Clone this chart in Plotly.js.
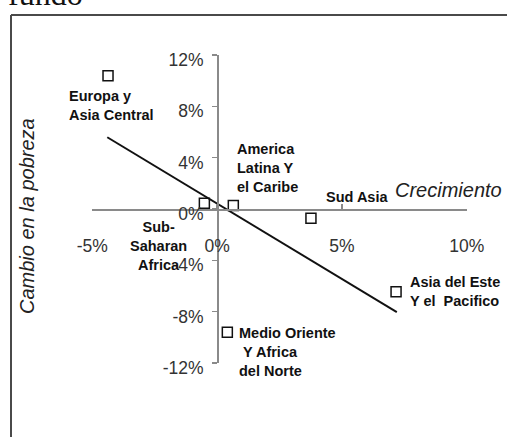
<!DOCTYPE html>
<html>
<head>
<meta charset="utf-8">
<script src="https://cdn.plot.ly/plotly-3.0.1.min.js"></script>
<style>html,body{margin:0;padding:0;background:#fff;}#chart{width:507px;height:437px;}</style>
</head>
<body>
<div id="chart"></div>
<script>
// Data
var regions = ['Europa y<br>Asia Central', 'Sub-<br>Saharan<br>Africa', 'America<br>Latina Y<br>el Caribe',
               'Sud Asia', 'Asia del Este<br>Y el\u00a0 Pacifico', 'Medio Oriente<br>\u00a0Y Africa<br>del Norte'];
var growth = [-4.37, -0.51, 0.65, 3.76, 7.17, 0.41];          // Crecimiento (%)
var povertyChange = [10.39, 0.44, 0.27, -0.72, -6.45, -9.61]; // Cambio en la pobreza (%)
var trendX = [-4.40, 7.20];
var trendY = [5.59, -8.03];
var xTickVals = [-5, 0, 5, 10];
var xTickText = ['-5%', '0%', '5%', '10%'];
var yTickVals = [-12, -8, -4, 0, 4, 8, 12];
var yTickText = ['-12%', '-8%', '-4%', '0%', '4%', '8%', '12%'];

// label placement (pixel offsets from each point) and anchors
var labelShiftX = [-41, -46, 2, 13, 12, 10];
var labelShiftY = [-30, -43, 38, 21, 0, -20];
var labelAnchor = ['left', 'center', 'left', 'left', 'left', 'left'];

var W = 507, H = 437;
var FONT = 'Liberation Sans, Arial, sans-serif';

var traces = [
  {
    x: trendX, y: trendY, type: 'scatter', mode: 'lines',
    line: {color: '#111', width: 2}, hoverinfo: 'skip'
  },
  {
    x: growth, y: povertyChange, type: 'scatter', mode: 'markers',
    marker: {symbol: 'square-open', size: 10, color: '#111', line: {width: 1.5, color: '#111'}},
    cliponaxis: false, text: regions, hoverinfo: 'text'
  }
];

var annotations = regions.map(function (r, i) {
  return {
    x: growth[i], y: povertyChange[i], xref: 'x', yref: 'y',
    text: '<b>' + r + '</b>', showarrow: false,
    xanchor: labelAnchor[i], yanchor: 'middle', align: labelAnchor[i] === 'center' ? 'center' : 'left',
    xshift: labelShiftX[i], yshift: labelShiftY[i],
    font: {family: FONT, size: 14.5, color: '#111'}
  };
});

annotations.push({
  text: 'Cambio en la pobreza', xref: 'paper', yref: 'paper',
  x: 27 / W, y: 1 - 216 / H, showarrow: false, textangle: -90,
  xanchor: 'center', yanchor: 'middle',
  font: {family: FONT, size: 20, color: '#222', style: 'italic'}
});
annotations.push({
  text: 'Crecimiento', xref: 'paper', yref: 'paper',
  x: 448 / W, y: 1 - 190 / H, showarrow: false,
  xanchor: 'center', yanchor: 'middle',
  font: {family: FONT, size: 20, color: '#222', style: 'italic'}
});
annotations.push({
  text: 'fundo', xref: 'paper', yref: 'paper',
  x: 6 / W, y: 1 + 6 / H, showarrow: false,
  xanchor: 'left', yanchor: 'middle',
  font: {family: 'Liberation Serif, Times New Roman, serif', size: 32, color: '#111'}
});

var layout = {
  width: W, height: H,
  margin: {l: 0, r: 0, t: 0, b: 0, pad: 0},
  paper_bgcolor: '#fff', plot_bgcolor: 'rgba(0,0,0,0)',
  showlegend: false,
  xaxis: {
    domain: [92.3 / W, 466.7 / W], range: [-5, 10],
    anchor: 'free', position: 1 - 209 / H,
    showline: true, linecolor: '#8a8a8a', linewidth: 1.5,
    ticks: 'inside', ticklen: 5, tickwidth: 1.5, tickcolor: '#8a8a8a',
    tickvals: xTickVals, ticktext: xTickText,
    tickfont: {family: FONT, size: 17.5, color: '#333'},
    ticklabelstandoff: 20,
    showgrid: false, zeroline: false, fixedrange: true
  },
  yaxis: {
    domain: [1 - 363 / H, 1 - 55 / H], range: [-12, 12],
    anchor: 'free', position: 217.1 / W,
    showline: true, linecolor: '#8a8a8a', linewidth: 1.5,
    ticks: 'outside', ticklen: 5, tickwidth: 1.5, tickcolor: '#8a8a8a',
    tickvals: yTickVals, ticktext: yTickText,
    tickfont: {family: FONT, size: 17.5, color: '#333'},
    ticklabelstandoff: 5, ticklabelshift: 5,
    showgrid: false, zeroline: false, fixedrange: true
  },
  shapes: [
    {type: 'line', xref: 'paper', yref: 'paper', x0: 11 / W, x1: 1, y0: 1 - 15 / H, y1: 1 - 15 / H,
     line: {color: '#4a4a4a', width: 2}},
    {type: 'line', xref: 'paper', yref: 'paper', x0: 11 / W, x1: 11 / W, y0: 1 - 15 / H, y1: 0,
     line: {color: '#4a4a4a', width: 2}}
  ],
  annotations: annotations
};

Plotly.newPlot('chart', traces, layout, {displayModeBar: false, staticPlot: true});
</script>
</body>
</html>
